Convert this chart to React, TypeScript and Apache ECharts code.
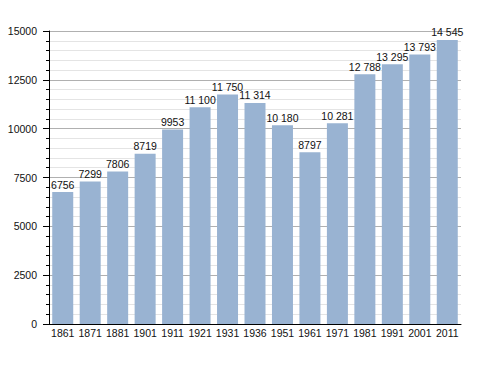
import React, { useEffect, useRef } from "react";
import * as echarts from "echarts";

const years = ["1861", "1871", "1881", "1901", "1911", "1921", "1931", "1936", "1951", "1961", "1971", "1981", "1991", "2001", "2011"];
const population = [6756, 7299, 7806, 8719, 9953, 11100, 11750, 11314, 10180, 8797, 10281, 12788, 13295, 13793, 14545];

function fmt(v: number): string {
  if (v >= 10000) {
    const s = String(v);
    return s.slice(0, s.length - 3) + " " + s.slice(s.length - 3);
  }
  return String(v);
}

export default function App() {
  const ref = useRef<HTMLDivElement>(null);
  useEffect(() => {
    if (!ref.current) return;
    const chart = echarts.init(ref.current, null, { renderer: "svg" });
    const font = "Liberation Sans";
    chart.setOption({
      animation: false,
      backgroundColor: "#ffffff",
      grid: { left: 49, right: 27, top: 31, bottom: 49 },
      xAxis: {
        type: "category",
        data: years,
        axisLine: { show: true, lineStyle: { color: "#000", width: 1 } },
        axisTick: { show: false },
        axisLabel: { color: "#111", fontFamily: font, fontSize: 10.5, margin: 3, interval: 0 },
        splitLine: { show: false },
      },
      yAxis: {
        type: "value",
        min: 0,
        max: 15000,
        interval: 2500,
        axisLine: { show: true, lineStyle: { color: "#000", width: 1 } },
        axisTick: { show: true, inside: false, length: 6, lineStyle: { color: "#000" } },
        minorTick: { show: true, splitNumber: 5, length: 3, lineStyle: { color: "#000" } },
        axisLabel: { color: "#111", fontFamily: font, fontSize: 10.5, margin: 12, formatter: (v: number) => String(v) },
        splitLine: { show: true, lineStyle: { color: "#b0b0b0", width: 1 } },
        minorSplitLine: { show: true, lineStyle: { color: "#e4e4e4", width: 1 } },
      },
      series: [
        {
          type: "bar",
          data: population,
          barWidth: 21,
          itemStyle: { color: "#99b3d2" },
          label: {
            show: true,
            position: "top",
            distance: 2,
            color: "#111",
            fontFamily: font,
            fontSize: 10.5,
            formatter: (p: any) => fmt(p.value),
          },
        },
      ],
    });
    return () => chart.dispose();
  }, []);
  return <div ref={ref} style={{ position: "fixed", left: 0, top: 0, width: 488, height: 373 }} />;
}
